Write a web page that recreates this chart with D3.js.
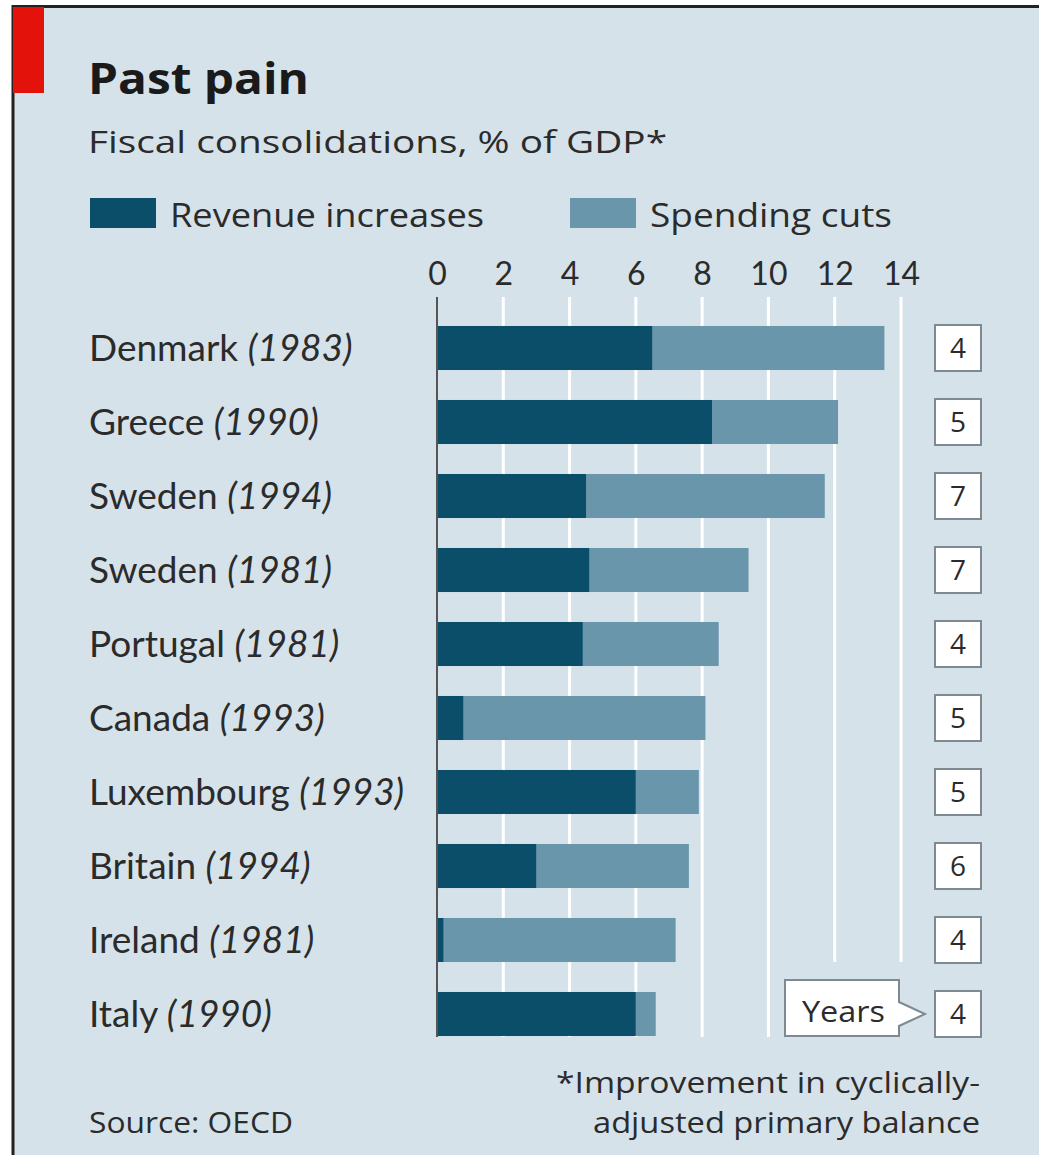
<!DOCTYPE html>
<html><head><meta charset="utf-8">
<script src="https://cdn.jsdelivr.net/npm/d3@7"></script>
<style>html,body{margin:0;padding:0;background:#fff;}svg{display:block;}</style>
</head><body>
<script>
const countries = ["Denmark","Greece","Sweden","Sweden","Portugal","Canada","Luxembourg","Britain","Ireland","Italy"];
const years = ["1983","1990","1994","1981","1981","1993","1993","1994","1981","1990"];
const revenue = [6.5, 8.3, 4.5, 4.6, 4.4, 0.8, 6.0, 3.0, 0.2, 6.0];
const spending = [7.0, 3.8, 7.2, 4.8, 4.1, 7.3, 1.9, 4.6, 7.0, 0.6];
const duration = [4, 5, 7, 7, 4, 5, 5, 6, 4, 4];
const tickValues = [0, 2, 4, 6, 8, 10, 12, 14];
const seriesNames = ["Revenue increases", "Spending cuts"];

const W = 1039, H = 1155;
const FONT = "Lato, 'Open Sans', sans-serif";
const FONT2 = "'Open Sans', Lato, sans-serif";
const C_DARK = "#0a4e69", C_LIGHT = "#6a96ac", BG = "#d6e2ea", TXT = "#2b2b2b";

const keys = countries.map((c, i) => c + " (" + years[i] + ")");
const rows = keys.map((k, i) => ({key: k, country: countries[i], year: years[i], rev: revenue[i], sp: spending[i], dur: duration[i]}));

const svg = d3.select("body").append("svg").attr("width", W).attr("height", H);

function fitText(sel, len) {
  return sel.attr("textLength", len).attr("lengthAdjust", "spacingAndGlyphs");
}

// frame
svg.append("rect").attr("x", 12).attr("y", 6).attr("width", W - 12).attr("height", H - 6).attr("fill", BG);
svg.append("line").attr("x1", 12).attr("x2", W).attr("y1", 6.5).attr("y2", 6.5).attr("stroke", "#222").attr("stroke-width", 3);
svg.append("line").attr("x1", 13).attr("x2", 13).attr("y1", 5).attr("y2", H).attr("stroke", "#222").attr("stroke-width", 3);
svg.append("rect").attr("x", 13).attr("y", 7).attr("width", 31).attr("height", 86).attr("fill", "#e3120b");

// titles
fitText(svg.append("text").attr("x", 88).attr("y", 94).attr("font-family", FONT2).attr("font-weight", 700)
  .attr("font-size", 43).attr("fill", "#1a1a1a").text("Past pain"), 221);
fitText(svg.append("text").attr("x", 88).attr("y", 153).attr("font-family", FONT2)
  .attr("font-size", 31).attr("fill", TXT).text("Fiscal consolidations, % of GDP*"), 579);

// legend
const legX = [90, 570];
const legLen = [314, 242];
const lg = svg.append("g");
seriesNames.forEach((n, i) => {
  lg.append("rect").attr("x", legX[i]).attr("y", 198).attr("width", 66).attr("height", 30)
    .attr("fill", i === 0 ? C_DARK : C_LIGHT);
  fitText(lg.append("text").attr("x", legX[i] + 80).attr("y", 227).attr("font-family", FONT2)
    .attr("font-size", 32).attr("fill", TXT).text(n), legLen[i]);
});

// scales
const x = d3.scaleLinear().domain([0, 14]).range([437, 901]);
const y = d3.scaleBand().domain(keys).range([311, 1051]).paddingInner(0.405).paddingOuter(0.2025);

const gridTop = 297, gridBottom = 1037;
const calloutLeft = 785, calloutTop = 980;

// gridlines
svg.append("g").selectAll("line").data(tickValues.filter(d => d > 0)).join("line")
  .attr("x1", d => x(d)).attr("x2", d => x(d))
  .attr("y1", gridTop).attr("y2", d => x(d) > calloutLeft ? calloutTop - 18 : gridBottom)
  .attr("stroke", "#fff").attr("stroke-width", 3);

// axis tick labels
const axis = d3.axisTop(x).tickValues(tickValues).tickSize(0).tickPadding(0).tickFormat(d3.format("d"));
const ag = svg.append("g").attr("transform", "translate(0,285)").call(axis);
ag.select(".domain").remove();
ag.selectAll("text").attr("font-family", FONT).attr("font-size", 32).attr("fill", TXT);

// bars
const bg = svg.append("g");
bg.selectAll("rect.sp").data(rows).join("rect").attr("class", "sp")
  .attr("x", d => x(d.rev)).attr("y", d => y(d.key))
  .attr("width", d => x(d.rev + d.sp) - x(d.rev)).attr("height", y.bandwidth()).attr("fill", C_LIGHT);
bg.selectAll("rect.rev").data(rows).join("rect").attr("class", "rev")
  .attr("x", x(0)).attr("y", d => y(d.key))
  .attr("width", d => x(d.rev) - x(0)).attr("height", y.bandwidth()).attr("fill", C_DARK);

// zero line
svg.append("line").attr("x1", x(0)).attr("x2", x(0)).attr("y1", gridTop).attr("y2", gridBottom)
  .attr("stroke", "#555").attr("stroke-width", 2);

// category labels
const lab = svg.append("g").selectAll("text").data(rows).join("text")
  .attr("x", 89).attr("y", d => y(d.key) + y.bandwidth() / 2).attr("dy", "0.36em")
  .attr("font-family", FONT).attr("font-size", 37).attr("fill", TXT);
lab.append("tspan").text(d => d.country + " ");
lab.append("tspan").attr("font-style", "italic").text(d => "(" + d.year + ")");

// duration boxes
const bx = svg.append("g");
const boxW = 46, boxCx = 958;
bx.selectAll("rect").data(rows).join("rect")
  .attr("x", boxCx - boxW / 2).attr("y", d => y(d.key) + y.bandwidth() / 2 - boxW / 2)
  .attr("width", boxW).attr("height", boxW).attr("fill", "#fff").attr("stroke", "#7d8a92").attr("stroke-width", 2);
bx.selectAll("text").data(rows).join("text")
  .attr("x", boxCx).attr("y", d => y(d.key) + y.bandwidth() / 2).attr("dy", "0.36em")
  .attr("text-anchor", "middle").attr("font-family", FONT2).attr("font-size", 28).attr("fill", TXT)
  .text(d => d.dur);

// "Years" callout
const last = rows[rows.length - 1];
const cy = y(last.key) + y.bandwidth() / 2;
const cR = 899, tip = 925;
svg.append("path")
  .attr("d", `M${calloutLeft},${calloutTop} H${cR} V${cy - 12} L${tip},${cy} L${cR},${cy + 12} V1036 H${calloutLeft} Z`)
  .attr("fill", "#fff").attr("stroke", "#7d8a92").attr("stroke-width", 2);
fitText(svg.append("text").attr("x", 802).attr("y", cy - 3).attr("dy", "0.36em")
  .attr("font-family", FONT2).attr("font-size", 30).attr("fill", TXT).text("Years"), 83);

// footer
fitText(svg.append("text").attr("x", 89).attr("y", 1133).attr("font-family", FONT2).attr("font-size", 29)
  .attr("fill", TXT).text("Source: OECD"), 204);
const fn = svg.append("g").attr("font-family", FONT2).attr("font-size", 29).attr("fill", TXT);
fitText(fn.append("text").attr("x", 556).attr("y", 1093).text("*Improvement in cyclically-"), 424);
fitText(fn.append("text").attr("x", 593).attr("y", 1133).text("adjusted primary balance"), 387);
</script>
</body></html>
